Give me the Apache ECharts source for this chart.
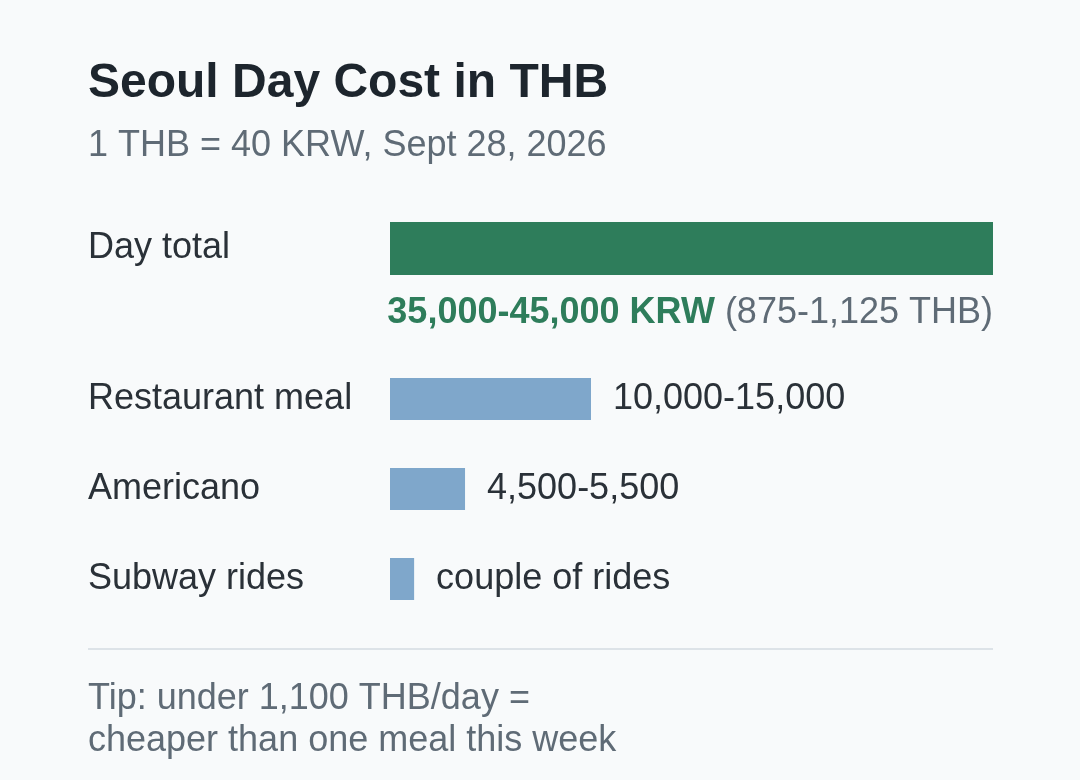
<!DOCTYPE html>
<html>
<head>
<meta charset="utf-8">
<title>Seoul Day Cost in THB</title>
<script src="https://cdn.jsdelivr.net/npm/echarts@6/dist/echarts.min.js"></script>
<style>
  html, body { margin: 0; padding: 0; background: #f8fafb; }
</style>
</head>
<body>
<div id="main" style="width:1080px;height:780px;"></div>
<script type="text/javascript">
var FONT = '"Liberation Sans", Arial, sans-serif';

// data
var totalCategory = ['Day total'];
var totalValue = [45000];
var totalLabelKrw = '35,000-45,000 KRW';
var totalLabelThb = '(875-1,125 THB)';

var itemCategories = ['Restaurant meal', 'Americano', 'Subway rides'];
var itemValues = [15000, 5600, 1800];
var itemLabels = ['10,000-15,000', '4,500-5,500', 'couple of rides'];

var chart = echarts.init(document.getElementById('main'));

var catAxis = function (data, idx) {
    return {
        type: 'category', gridIndex: idx, data: data, inverse: true,
        axisLine: {show: false}, axisTick: {show: false},
        axisLabel: {align: 'left', margin: 302, fontSize: 36, color: '#2a3138', fontFamily: FONT,
                    padding: idx === 1 ? [14, 0, 0, 0] : 0}
    };
};
var valAxis = function (idx) {
    return {type: 'value', gridIndex: idx, min: 0, max: 45000, show: false};
};

chart.setOption({
    backgroundColor: '#f8fafb',
    animation: false,
    grid: [
        {left: 390, width: 603, top: 222, height: 53},
        {left: 390, width: 603, top: 354, height: 270}
    ],
    xAxis: [valAxis(0), valAxis(1)],
    yAxis: [catAxis(totalCategory, 0), catAxis(itemCategories, 1)],
    series: [
        {
            type: 'bar', xAxisIndex: 0, yAxisIndex: 0, barWidth: 53,
            data: totalValue,
            itemStyle: {color: '#2e7d5b'},
            label: {
                show: true, position: ['100%', '100%'], align: 'right', verticalAlign: 'top',
                offset: [0, 20],
                formatter: '{a|' + totalLabelKrw + '}{s|}{b|' + totalLabelThb + '}',
                rich: {
                    a: {fontSize: 36, fontWeight: 'bold', color: '#2e7d5b', fontFamily: FONT},
                    s: {width: 10},
                    b: {fontSize: 36, color: '#5f6b76', fontFamily: FONT}
                }
            }
        },
        {
            type: 'bar', xAxisIndex: 1, yAxisIndex: 1, barWidth: 42,
            data: itemValues,
            itemStyle: {color: '#7fa7cb'},
            label: {
                show: true, position: 'right', distance: 22,
                fontSize: 36, color: '#2a3138', fontFamily: FONT,
                formatter: function (p) { return itemLabels[p.dataIndex]; }
            }
        }
    ],
    graphic: [
        {type: 'text', left: 88, top: 60, style: {text: 'Seoul Day Cost in THB', fontSize: 48, fontWeight: 'bold', fill: '#1d252d', fontFamily: FONT}},
        {type: 'text', left: 88, top: 128, style: {text: '1 THB = 40 KRW, Sept 28, 2026', fontSize: 36, fill: '#5f6b76', fontFamily: FONT}},
        {type: 'line', shape: {x1: 88, y1: 649, x2: 993, y2: 649}, style: {stroke: '#dde3e8', lineWidth: 2}},
        {type: 'text', left: 88, top: 678, style: {text: 'Tip: under 1,100 THB/day =\ncheaper than one meal this week', fontSize: 36, lineHeight: 42, fill: '#5f6b76', fontFamily: FONT}}
    ]
});
</script>
</body>
</html>
